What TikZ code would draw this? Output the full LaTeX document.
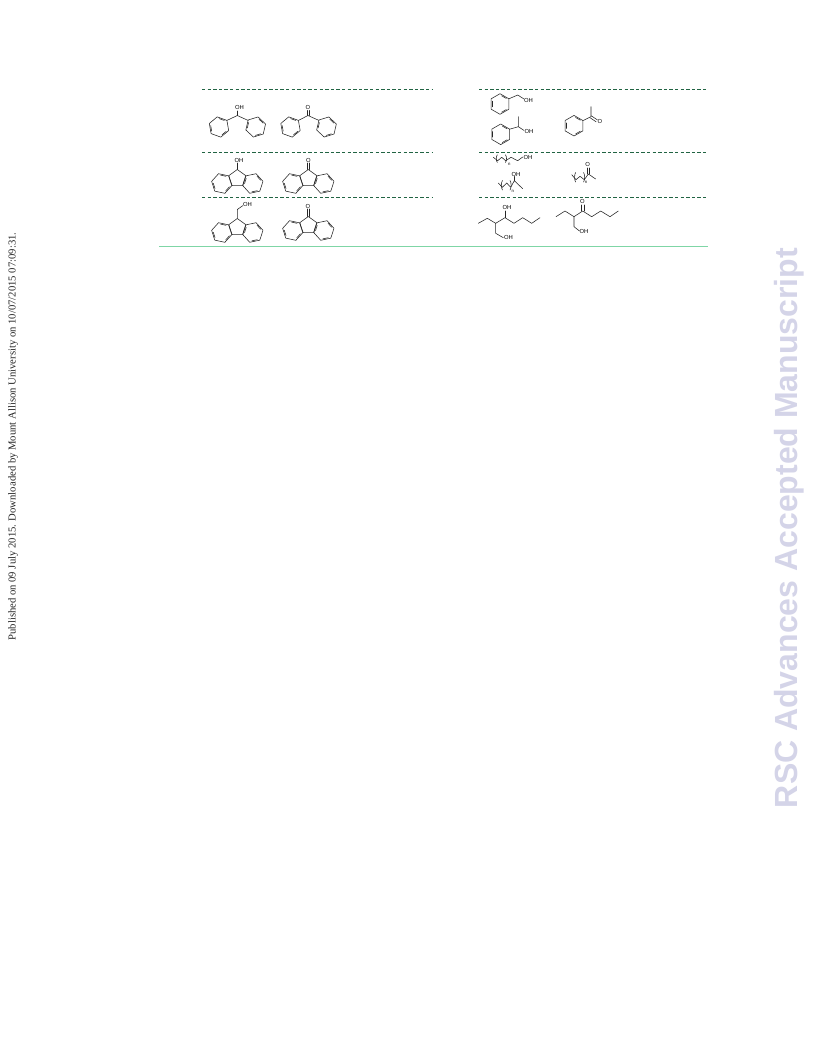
\documentclass[tikz,border=0pt]{standalone}
\usepackage{fontspec}
\setmainfont{Liberation Serif}
\newfontfamily\labelfont{Liberation Sans}
\definecolor{rulegreen}{HTML}{7FD6A6}
\definecolor{dashgreen}{HTML}{2F8F5F}
\definecolor{wm}{HTML}{D4D4E8}
\tikzset{
  bond/.style={draw=black!85,line width=.42pt,line cap=round,line join=round},
  dashrule/.style={draw=dashgreen!70!black,line width=.45pt,dash pattern=on 2.6pt off 1.6pt},
  atomlabel/.style={font=\labelfont\fontsize{4.4}{5}\selectfont,text=black,inner sep=0pt},
  sublabel/.style={font=\labelfont\fontsize{3.2}{4}\selectfont,text=black,inner sep=0pt}
}
% centre x, centre y, rotation (true angle), picture has y pointing down
\newcommand{\benzring}[3]{%
  \begin{scope}[shift={(#1,#2)}]
    \draw[bond] ({-(#3)}:10.3) -- ({-(#3+60)}:10.3) -- ({-(#3+120)}:10.3) -- ({-(#3+180)}:10.3) -- ({-(#3+240)}:10.3) -- ({-(#3+300)}:10.3) -- cycle;
    \foreach \k in {0,2,4}{
      \draw[bond] ({-(#3+\k*60+11)}:8.4) -- ({-(#3+\k*60+49)}:8.4);
    }
  \end{scope}}
% position of C9 (top of the five-membered ring)
\newcommand{\fluorenecore}[2]{%
  \begin{scope}[shift={(#1,{#2+8.9})}]
    \draw[bond] (-90:8.9) -- (-162:8.9) -- (-234:8.9) -- (-306:8.9) -- (-18:8.9) -- cycle;
  \end{scope}
  \benzring{#1-15.6}{#2+14}{48}
  \benzring{#1+15.6}{#2+14}{12}}
\newcommand{\dbl}[4]{%
  \draw[bond] ({#1-1.1},#2) -- ({#3-1.1},#4);
  \draw[bond] ({#1+1.1},#2) -- ({#3+1.1},#4);}
% bracket pair for a repeat unit
\newcommand{\brk}[3]{%
  \draw[bond] ({#1+1},{#2}) .. controls ({#1-.5},{#2+1.5}) and ({#1-.5},{#3-1.5}) .. ({#1+1},{#3});}
\newcommand{\brkr}[3]{%
  \draw[bond] ({#1-1},{#2}) .. controls ({#1+.5},{#2+1.5}) and ({#1+.5},{#3-1.5}) .. ({#1-1},{#3});}
\begin{document}
\begin{tikzpicture}[x=.75pt,y=-.75pt]
\useasboundingbox (0,0) rectangle (816,1056);
\fill[white] (0,0) rectangle (816,1056);

% table rules
\coordinate (la) at (202,89);  \coordinate (lb) at (433,89);
\coordinate (lc) at (202,152); \coordinate (ld) at (433,152);
\coordinate (le) at (202,197); \coordinate (lf) at (433,197);
\coordinate (ra) at (479,89);  \coordinate (rb) at (708,89);
\coordinate (rc) at (479,152); \coordinate (rd) at (708,152);
\coordinate (re) at (479,197); \coordinate (rf) at (708,197);
\coordinate (ga) at (159,246.5); \coordinate (gb) at (708,246.5);
\draw[dashrule] (la) -- (lb); \draw[dashrule] (lc) -- (ld); \draw[dashrule] (le) -- (lf);
\draw[dashrule] (ra) -- (rb); \draw[dashrule] (rc) -- (rd); \draw[dashrule] (re) -- (rf);
\draw[draw=rulegreen,line width=.7pt] (ga) -- (gb);

% benzhydrol
\benzring{219}{127}{40}
\benzring{255.7}{127}{137}
\draw[bond] (227,120.4) -- (237.3,115.5) -- (248,120.4);
\draw[bond] (237.3,115.5) -- (237.3,111);
\node[atomlabel] (a1) at (239.5,107.5) {OH};
% benzophenone
\benzring{290.5}{127}{40}
\benzring{326.5}{127}{137}
\draw[bond] (298.5,120.4) -- (308,115.5) -- (318.9,120.4);
\dbl{308}{115.5}{308}{110.5}
\node[atomlabel] (a2) at (308,107.5) {O};

% 9-fluorenol
\fluorenecore{237.3}{169.5}
\draw[bond] (237.3,169.5) -- (237.3,163);
\node[atomlabel] (a3) at (239,160) {OH};
% 9-fluorenone
\fluorenecore{308.3}{169.5}
\dbl{308.3}{169.5}{308.3}{163}
\node[atomlabel] (a4) at (308.3,160.2) {O};

% 9-fluorenemethanol
\fluorenecore{237.3}{218.5}
\draw[bond] (237.3,218.5) -- (237.3,209.5) -- (243,205.5);
\node[atomlabel] (a5) at (247.5,204.8) {OH};
% 9-fluorenone
\fluorenecore{308.3}{216.5}
\dbl{308.3}{216.5}{308.3}{209}
\node[atomlabel] (a6) at (308,206) {O};

% benzyl alcohol
\benzring{500}{104}{30}
\draw[bond] (508.9,98.8) -- (517.7,95) -- (524,99);
\node[atomlabel] (a7) at (528.5,100.2) {OH};
% 1-phenylethanol
\benzring{500.7}{134.3}{30}
\draw[bond] (509.6,129.2) -- (518.3,126.7) -- (518.3,116.7);
\draw[bond] (518.3,126.7) -- (524,130.5);
\node[atomlabel] (a8) at (529,131.7) {OH};
% acetophenone
\benzring{574}{125.7}{30}
\draw[bond] (582.9,120.6) -- (591,116.7) -- (591,106.7);
\draw[bond] (591.3,115.8) -- (597.3,119.8);
\draw[bond] (590.1,117.8) -- (596.1,121.8);
\node[atomlabel] (a9) at (600,121.5) {O};

% primary alcohol, (CH2)n
\draw[bond] (493.3,157.3) -- (497.7,160.7) -- (501.7,157.3) -- (505.7,160.7) -- (511,157.3) -- (517.7,160.7) -- (522.7,157);
\brk{496.4}{154.8}{162.5}
\brkr{506.4}{154.8}{162.5}
\node[sublabel] (n1) at (509.3,164) {n};
\node[atomlabel] (a10) at (528,157) {OH};
% secondary alcohol, (CH2)n
\draw[bond] (498.3,183) -- (502.3,187.3) -- (506.7,183) -- (510.7,187.3) -- (514.3,180.7) -- (522.7,188.7);
\draw[bond] (514.3,180.7) -- (514.3,176.5);
\brk{501.5}{180.5}{190}
\brkr{511}{180.5}{190}
\node[sublabel] (n2) at (512.7,191.3) {n};
\node[atomlabel] (a11) at (516,174) {OH};
% ketone, (CH2)n
\draw[bond] (571.7,174.7) -- (576,179.7) -- (580,176.3) -- (584.3,179.7) -- (588.3,174) -- (595.7,179);
\dbl{588.3}{174}{588.3}{168}
\brk{574.7}{172.5}{182}
\brkr{584.5}{172.5}{182}
\node[sublabel] (n3) at (586,182.3) {n};
\node[atomlabel] (a12) at (587.7,164.9) {O};

% 2-ethylhexane-1,3-diol
\draw[bond] (478.3,223.3) -- (487.3,218.3) -- (495.7,223.3) -- (505,217.7) -- (514,223.3) -- (522.7,217.7) -- (531.7,223.3) -- (540,217.7);
\draw[bond] (505,217.7) -- (505,211);
\draw[bond] (495.7,223.3) -- (495.7,233.3) -- (503.3,237.7);
\node[atomlabel] (a13) at (507,207.8) {OH};
\node[atomlabel] (a14) at (508.5,237.2) {OH};
% 2-ethyl-1-hydroxyhexan-3-one
\draw[bond] (556,216.7) -- (565,211) -- (574,216.7) -- (582.7,211) -- (591.7,216.7) -- (600.7,211) -- (610,216.7) -- (618.3,211);
\dbl{582.7}{211}{582.7}{205}
\draw[bond] (574,216.7) -- (574,226.7) -- (579.5,231);
\node[atomlabel] (a15) at (582.5,201.7) {O};
\node[atomlabel] (a16) at (584,231.7) {OH};

% margin note and watermark
\node[rotate=90,inner sep=0pt,font=\fontsize{8}{9}\selectfont,text=black!85] (pub) at (13,436.5) {Published on 09 July 2015. Downloaded by Mount Allison University on 10/07/2015 07:09:31.};
\node[rotate=90,inner sep=0pt,font=\labelfont\bfseries\fontsize{24}{27}\selectfont,text=wm] (wmk) at (789,528) {RSC Advances Accepted Manuscript};
\end{tikzpicture}
\end{document}
